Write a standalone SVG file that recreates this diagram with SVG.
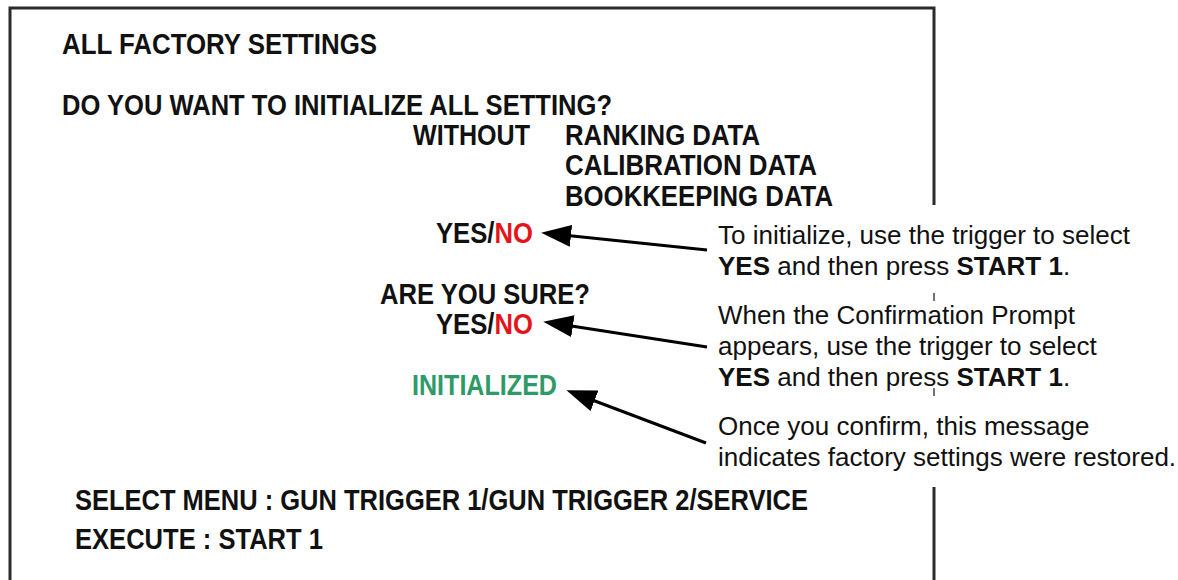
<svg xmlns="http://www.w3.org/2000/svg" width="1178" height="580" viewBox="0 0 1178 580">
  <style>
    .frame { stroke: #2b2b2b; stroke-width: 3; fill: none; }
    .tick { stroke: #444; stroke-width: 1.5; }
    .scr { font-family: "Liberation Sans", Arial, sans-serif; font-weight: bold; font-size: 29px; fill: #111; }
    .red { fill: #e5141b; }
    .green { fill: #2e9a68; }
    .note { font-family: "Liberation Sans", Arial, sans-serif; font-size: 26px; fill: #111; }
    .b { font-weight: bold; }
    .conn { stroke: #000; stroke-width: 3; fill: none; }
  </style>
  <defs>
    <marker id="ah" viewBox="0 0 30 22" refX="8" refY="11" markerWidth="30" markerHeight="22" markerUnits="userSpaceOnUse" orient="auto">
      <path d="M0,0 L30,11 L0,22 z" fill="#000"/>
    </marker>
  </defs>
  <rect width="1178" height="580" fill="#fff"/>

  <g id="screen-frame">
    <path class="frame" d="M10,580 L10,8 L934,8 L934,205"/>
    <path class="frame" d="M934,487 L934,580"/>
    <line class="tick" x1="934" y1="293" x2="934" y2="301"/>
    <line class="tick" x1="934" y1="388" x2="934" y2="396"/>
  </g>

  <g id="title">
    <text class="scr" x="62" y="54" textLength="315" lengthAdjust="spacingAndGlyphs">ALL FACTORY SETTINGS</text>
  </g>
  <g id="question">
    <text class="scr" x="62" y="115" textLength="550" lengthAdjust="spacingAndGlyphs">DO YOU WANT TO INITIALIZE ALL SETTING?</text>
  </g>
  <g id="without">
    <text class="scr" x="413" y="145" textLength="117" lengthAdjust="spacingAndGlyphs">WITHOUT</text>
    <text class="scr" x="565" y="145" textLength="195" lengthAdjust="spacingAndGlyphs">RANKING DATA</text>
    <text class="scr" x="565" y="175" textLength="252" lengthAdjust="spacingAndGlyphs">CALIBRATION DATA</text>
    <text class="scr" x="565" y="206" textLength="268" lengthAdjust="spacingAndGlyphs">BOOKKEEPING DATA</text>
  </g>
  <g id="yesno-1">
    <text class="scr" x="436" y="243" textLength="97" lengthAdjust="spacingAndGlyphs">YES/<tspan class="red">NO</tspan></text>
  </g>
  <g id="are-you-sure">
    <text class="scr" x="380" y="304" textLength="210" lengthAdjust="spacingAndGlyphs">ARE YOU SURE?</text>
  </g>
  <g id="yesno-2">
    <text class="scr" x="436" y="334" textLength="97" lengthAdjust="spacingAndGlyphs">YES/<tspan class="red">NO</tspan></text>
  </g>
  <g id="initialized">
    <text class="scr green" x="412" y="395" textLength="145" lengthAdjust="spacingAndGlyphs">INITIALIZED</text>
  </g>
  <g id="footer">
    <text class="scr" x="75" y="510" textLength="733" lengthAdjust="spacingAndGlyphs">SELECT MENU : GUN TRIGGER 1/GUN TRIGGER 2/SERVICE</text>
    <text class="scr" x="75" y="549" textLength="248" lengthAdjust="spacingAndGlyphs">EXECUTE : START 1</text>
  </g>

  <g id="note-1">
    <text class="note" x="718" y="244">To initialize, use the trigger to select</text>
    <text class="note" x="718" y="275"><tspan class="b">YES</tspan> and then press <tspan class="b">START 1</tspan>.</text>
  </g>
  <g id="note-2">
    <text class="note" x="718" y="324">When the Confirmation Prompt</text>
    <text class="note" x="718" y="355">appears, use the trigger to select</text>
    <text class="note" x="718" y="386"><tspan class="b">YES</tspan> and then press <tspan class="b">START 1</tspan>.</text>
  </g>
  <g id="note-3">
    <text class="note" x="718" y="435">Once you confirm, this message</text>
    <text class="note" x="718" y="466">indicates factory settings were restored.</text>
  </g>

  <g id="connectors">
    <line class="conn" x1="707" y1="250" x2="563" y2="235" marker-end="url(#ah)"/>
    <line class="conn" x1="707" y1="347" x2="565" y2="325" marker-end="url(#ah)"/>
    <line class="conn" x1="706" y1="443" x2="587" y2="398" marker-end="url(#ah)"/>
  </g>
</svg>
